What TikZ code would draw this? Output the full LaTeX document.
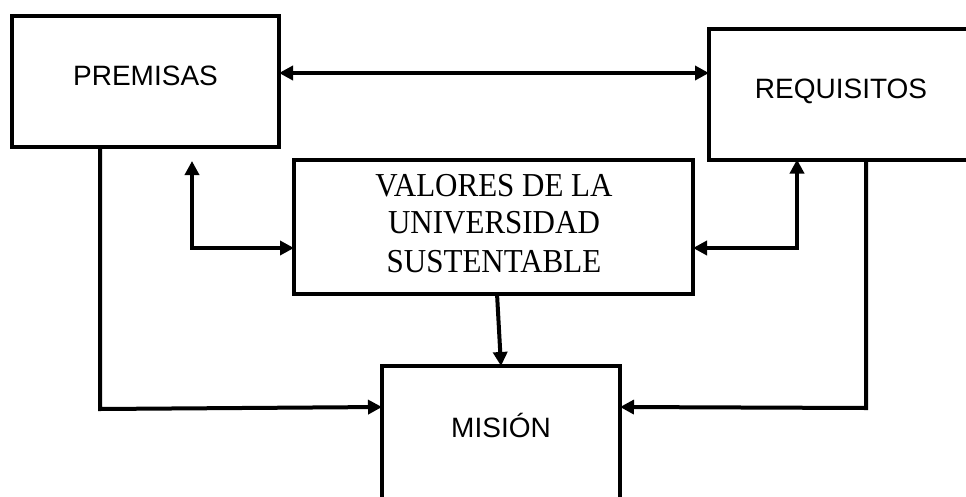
\documentclass[tikz,border=0pt]{standalone}
\usepackage{fontspec}
\setmainfont{Liberation Serif}
\newfontfamily\arialf{Liberation Sans}
\usetikzlibrary{arrows.meta}
\newcommand{\tallt}[1]{\scalebox{1}[1.08]{#1}}
\begin{document}
\begin{tikzpicture}[x=1pt,y=-1pt,
  box/.style={draw,line width=4pt,inner sep=0pt,outer sep=0pt,anchor=north west},
  sanslab/.style={font=\arialf\fontsize{28}{32}\selectfont,anchor=base,inner sep=0pt},
  seriflab/.style={font=\fontsize{31}{38}\selectfont,anchor=base,inner sep=0pt},
  tipA/.tip={Triangle[length=14pt,width=14pt]},
  conn/.style={line width=4pt,-tipA},
  conn2/.style={line width=4pt,tipA-tipA}]
\useasboundingbox (0,0) rectangle (966,496);
% boxes
\node[box,minimum width=267pt,minimum height=131pt] (prem) at (12,15.5) {};
\node[box,minimum width=290pt,minimum height=130.5pt] (req) at (709,29) {};
\node[box,minimum width=399pt,minimum height=133.5pt] (val) at (294,160) {};
\node[box,minimum width=238pt,minimum height=160pt] (mis) at (382,366) {};
% texts
\node[sanslab] (premt) at (145.5,85) {PREMISAS};
\node[sanslab] (reqt) at (841,98) {REQUISITOS};
\node[sanslab] (mist) at (501,437) {MISIÓN};
\node[seriflab] (val1) at (494,196.5) {\tallt{VALORES DE LA}};
\node[seriflab] (val2) at (494,233.5) {\tallt{UNIVERSIDAD}};
\node[seriflab] (val3) at (494,272) {\tallt{SUSTENTABLE}};
% helper coordinates
\coordinate (topy) at (0,73);
\coordinate (midy) at (0,248);
\coordinate (ltip) at (192,161);
\coordinate (rx) at (797,0);
\coordinate (lx) at (100,0);
\coordinate (rrx) at (866,0);
\coordinate (lcorner) at (100,409);
\coordinate (rcorner) at (866,408);
\coordinate (vbot) at (497,293.5);
\coordinate (mtop) at (501,366);
\coordinate (ly) at (0,407);
% connectors
\draw[conn2] (prem.east |- topy) -- (req.west |- topy);
\draw[conn2] (ltip) |- (val.west |- midy);
\draw[conn2] (val.east |- midy) -| (req.south -| rx);
\draw[conn] (vbot) -- (mtop);
\draw[conn] (prem.south -| lx) -- (lcorner) -- (mis.west |- ly);
\draw[conn] (req.south -| rrx) -- (rcorner) -- (mis.east |- ly);
\end{tikzpicture}
\end{document}
